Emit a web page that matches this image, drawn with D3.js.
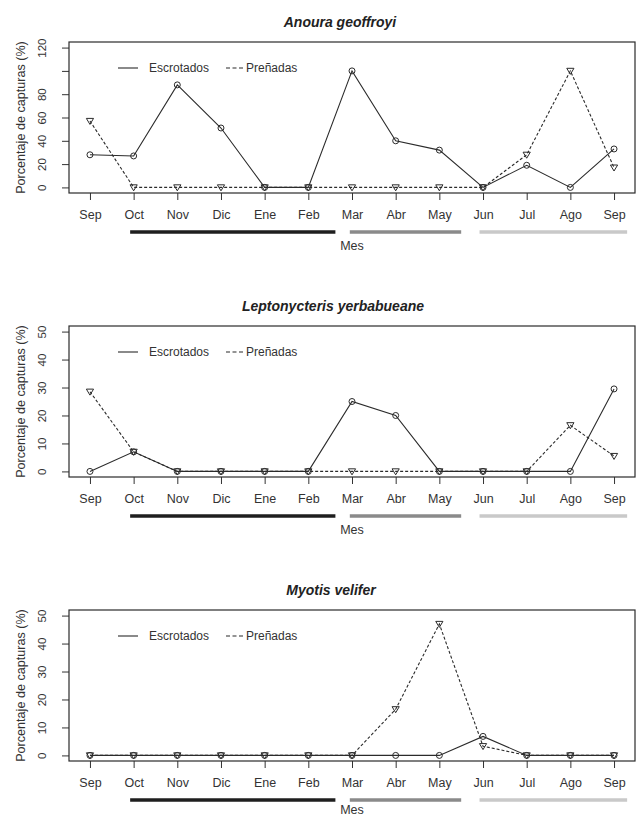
<!DOCTYPE html>
<html>
<head>
<meta charset="utf-8">
<script src="https://cdn.jsdelivr.net/npm/d3@7/dist/d3.min.js"></script>
<style>
  body { margin: 0; background: #fff; }
  svg { display: block; font-family: "Liberation Sans", Arial, sans-serif; }
  .tick line { stroke: #333; }
  .tick text { fill: #333; }
</style>
</head>
<body>
<div id="chart"></div>
<script>
'use strict';

// Months (x axis), Sep to Sep
var months = ['Sep', 'Oct', 'Nov', 'Dic', 'Ene', 'Feb', 'Mar', 'Abr', 'May', 'Jun', 'Jul', 'Ago', 'Sep'];

// Anoura geoffroyi
var anouraEscrotados = [28, 27, 88, 51, 0, 0, 100, 40, 32, 0, 19, 0, 33];
var anouraPrenadas   = [57, 0, 0, 0, 0, 0, 0, 0, 0, 0, 28, 100, 17];
var anouraTicks      = [0, 20, 40, 60, 80, 100, 120];

// Leptonycteris yerbabueane
var leptoEscrotados = [0, 7, 0, 0, 0, 0, 25, 20, 0, 0, 0, 0, 29.5];
var leptoPrenadas   = [28.5, 7, 0, 0, 0, 0, 0, 0, 0, 0, 0, 16.5, 5.5];
var leptoTicks      = [0, 10, 20, 30, 40, 50];

// Myotis velifer
var myotisEscrotados = [0, 0, 0, 0, 0, 0, 0, 0, 0, 6.8, 0, 0, 0];
var myotisPrenadas   = [0, 0, 0, 0, 0, 0, 0, 16.5, 47, 3.3, 0, 0, 0];
var myotisTicks      = [0, 10, 20, 30, 40, 50];

// Season bars under the axis, in month-index units
var seasonStart = [0.92, 5.95, 8.92];
var seasonEnd   = [5.62, 8.5, 12.3];

var seriesNames = ['Escrotados', 'Preñadas'];

var panels = [
  {title: 'Anoura geoffroyi', esc: anouraEscrotados, pre: anouraPrenadas, ticks: anouraTicks, top: 42, titleX: 340},
  {title: 'Leptonycteris yerbabueane', esc: leptoEscrotados, pre: leptoPrenadas, ticks: leptoTicks, top: 326, titleX: 333},
  {title: 'Myotis velifer', esc: myotisEscrotados, pre: myotisPrenadas, ticks: myotisTicks, top: 610, titleX: 331}
];

var W = 636, H = 818;
var left = 69, right = 635, boxH = 151;
var ink = '#2b2b2b';
var seasonColors = ['#1e1e1e', '#8a8a8a', '#c9c9c9'];

var svg = d3.select('#chart').append('svg')
  .attr('width', W)
  .attr('height', H);

// R style axis padding: 4% each side
var x = d3.scaleLinear()
  .domain([-0.48, months.length - 1 + 0.48])
  .range([left, right]);

function triangle(s) {
  return 'M' + (-s) + ',' + (-s * 0.72) + 'L' + s + ',' + (-s * 0.72) + 'L0,' + (s * 0.95) + 'Z';
}

panels.forEach(function(p) {
  var top = p.top, bottom = top + boxH;
  var yMax = d3.max(p.ticks);
  var pad = yMax * 0.04;
  var y = d3.scaleLinear().domain([-pad, yMax + pad]).range([bottom, top]);

  var g = svg.append('g');

  // title
  g.append('text')
    .attr('x', p.titleX)
    .attr('y', top - 15)
    .attr('text-anchor', 'middle')
    .style('font-size', '14px')
    .style('font-weight', 'bold')
    .style('font-style', 'italic')
    .style('fill', '#222')
    .text(p.title);

  // y axis
  var yAxis = g.append('g')
    .attr('transform', 'translate(' + left + ',0)')
    .call(d3.axisLeft(y)
      .tickValues(p.ticks)
      .tickSize(7)
      .tickFormat(function(d) { return d === 100 ? '' : d; }));
  yAxis.select('.domain').remove();
  yAxis.selectAll('.tick text')
    .attr('x', null)
    .attr('dy', null)
    .attr('transform', 'translate(-23,0) rotate(-90)')
    .attr('text-anchor', 'middle')
    .style('font-size', '11.5px')
    .style('font-family', '"Liberation Sans", Arial, sans-serif');

  // x axis
  var xAxis = g.append('g')
    .attr('transform', 'translate(0,' + bottom + ')')
    .call(d3.axisBottom(x)
      .tickValues(d3.range(months.length))
      .tickSize(7)
      .tickPadding(10)
      .tickFormat(function(i) { return months[i]; }));
  xAxis.select('.domain').remove();
  xAxis.selectAll('.tick text')
    .style('font-size', '12.5px')
    .style('font-family', '"Liberation Sans", Arial, sans-serif');

  // plot box
  g.append('rect')
    .attr('x', left)
    .attr('y', top)
    .attr('width', right - left)
    .attr('height', boxH)
    .attr('fill', 'none')
    .attr('stroke', ink)
    .attr('stroke-width', 1.2);

  // y label
  g.append('text')
    .attr('transform', 'translate(25,' + (top + boxH / 2) + ') rotate(-90)')
    .attr('text-anchor', 'middle')
    .style('font-size', '12.6px')
    .style('fill', '#333')
    .text('Porcentaje de capturas (%)');

  // season bars
  g.selectAll('.season')
    .data(seasonStart)
    .enter().append('line')
    .attr('x1', function(d) { return x(d); })
    .attr('x2', function(d, i) { return x(seasonEnd[i]); })
    .attr('y1', bottom + 39)
    .attr('y2', bottom + 39)
    .attr('stroke', function(d, i) { return seasonColors[i]; })
    .attr('stroke-width', 3.5);

  // x label (kept inside the page for the last panel)
  g.append('text')
    .attr('x', (left + right) / 2)
    .attr('y', Math.min(bottom + 57, H - 4))
    .attr('text-anchor', 'middle')
    .style('font-size', '12.5px')
    .style('fill', '#333')
    .text('Mes');

  var line = d3.line()
    .x(function(d, i) { return x(i); })
    .y(function(d) { return y(d); });

  // Preñadas (dashed, down triangles)
  g.append('path')
    .datum(p.pre)
    .attr('d', line)
    .attr('fill', 'none')
    .attr('stroke', ink)
    .attr('stroke-width', 1.1)
    .attr('stroke-dasharray', '3,2');

  // Escrotados (solid, circles)
  g.append('path')
    .datum(p.esc)
    .attr('d', line)
    .attr('fill', 'none')
    .attr('stroke', ink)
    .attr('stroke-width', 1.1);

  g.selectAll('.pre-pt')
    .data(p.pre)
    .enter().append('path')
    .attr('d', triangle(3.6))
    .attr('transform', function(d, i) { return 'translate(' + x(i) + ',' + y(d) + ')'; })
    .attr('fill', 'none')
    .attr('stroke', ink)
    .attr('stroke-width', 1);

  g.selectAll('.esc-pt')
    .data(p.esc)
    .enter().append('circle')
    .attr('cx', function(d, i) { return x(i); })
    .attr('cy', function(d) { return y(d); })
    .attr('r', 3)
    .attr('fill', 'none')
    .attr('stroke', ink)
    .attr('stroke-width', 1);

  // legend
  var ly = top + 26;
  var leg = g.append('g');
  leg.append('line')
    .attr('x1', 118).attr('x2', 138)
    .attr('y1', ly).attr('y2', ly)
    .attr('stroke', ink).attr('stroke-width', 1.1);
  leg.append('text')
    .attr('x', 149).attr('y', ly + 4)
    .style('font-size', '12px').style('fill', '#333')
    .text(seriesNames[0]);
  leg.append('line')
    .attr('x1', 226).attr('x2', 243)
    .attr('y1', ly).attr('y2', ly)
    .attr('stroke', ink).attr('stroke-width', 1.1)
    .attr('stroke-dasharray', '4,2.5');
  leg.append('text')
    .attr('x', 246).attr('y', ly + 4)
    .style('font-size', '12px').style('fill', '#333')
    .text(seriesNames[1]);
});
</script>
</body>
</html>
